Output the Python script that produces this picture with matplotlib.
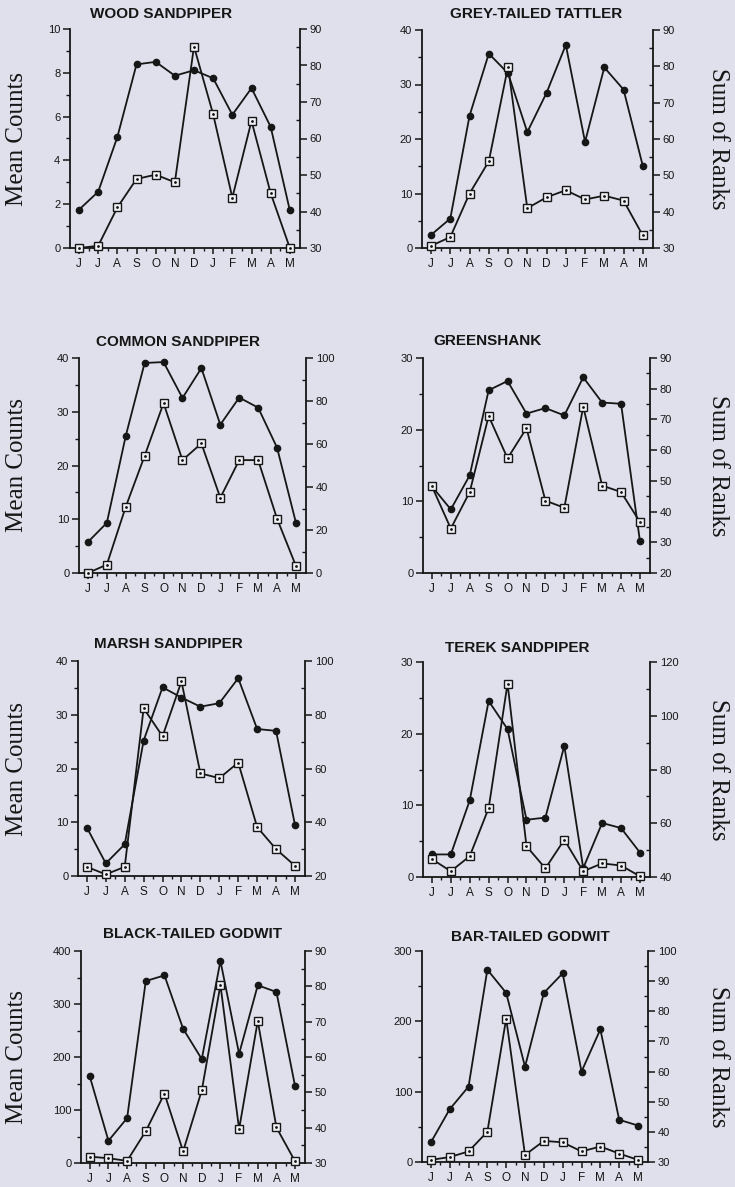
import matplotlib
matplotlib.use("Agg")
import matplotlib.pyplot as plt
from matplotlib.ticker import MultipleLocator, FixedLocator

months = ["J", "J", "A", "S", "O", "N", "D", "J", "F", "M", "A", "M"]

species = ["WOOD SANDPIPER", "GREY-TAILED TATTLER", "COMMON SANDPIPER", "GREENSHANK",
           "MARSH SANDPIPER", "TEREK SANDPIPER", "BLACK-TAILED GODWIT", "BAR-TAILED GODWIT"]

# Mean counts (open squares, left axis)
wood_counts = [0, 0.1, 1.85, 3.15, 3.35, 3.0, 9.2, 6.1, 2.3, 5.8, 2.5, 0]
tattler_counts = [0.4, 2.0, 10.0, 15.9, 33.3, 7.3, 9.3, 10.6, 8.9, 9.6, 8.7, 2.3]
common_counts = [0, 1.55, 12.3, 21.8, 31.6, 21.0, 24.1, 14.0, 21.0, 21.0, 10.1, 1.3]
greenshank_counts = [12.1, 6.2, 11.3, 21.9, 16.0, 20.2, 10.1, 9.1, 23.2, 12.2, 11.3, 7.1]
marsh_counts = [1.7, 0.3, 1.7, 31.2, 26.0, 36.2, 19.1, 18.2, 21.1, 9.1, 5.0, 1.9]
terek_counts = [2.5, 0.8, 2.9, 9.6, 27.0, 4.3, 1.2, 5.2, 0.8, 1.9, 1.6, 0.1]
btgodwit_counts = [12, 9, 4, 60, 131, 22, 137, 336, 64, 268, 67, 3]
bargodwit_counts = [3, 7, 15, 43, 204, 10, 30, 28, 15, 22, 12, 3]

# Sum of ranks (filled markers, right axis)
wood_ranks = [40.5, 45.4, 60.4, 80.3, 81.0, 77.2, 78.7, 76.5, 66.5, 73.8, 63.2, 40.3]
tattler_ranks = [33.6, 38.1, 66.4, 83.5, 78.1, 61.9, 72.7, 85.9, 59.2, 79.7, 73.6, 52.6]
common_ranks = [14.4, 23.3, 63.7, 97.7, 98.1, 81.4, 95.3, 69.0, 81.6, 76.9, 58.3, 23.3]
greenshank_ranks = [48.2, 40.7, 51.8, 79.5, 82.5, 71.9, 73.7, 71.3, 83.7, 75.5, 75.1, 30.3]
marsh_ranks = [38.0, 24.7, 31.8, 70.4, 90.2, 86.4, 83.0, 84.3, 93.6, 74.7, 74.0, 39.0]
terek_ranks = [48.4, 48.4, 68.5, 105.5, 95.0, 61.3, 62.1, 88.8, 43.3, 60.1, 58.2, 49.1]
btgodwit_ranks = [54.5, 36.3, 42.7, 81.5, 83.1, 68.0, 59.4, 87.2, 60.9, 80.3, 78.4, 51.7]
bargodwit_ranks = [36.5, 47.5, 55.0, 93.8, 86.1, 61.6, 86.1, 92.6, 60.0, 74.0, 44.0, 42.1]

counts = [wood_counts, tattler_counts, common_counts, greenshank_counts,
          marsh_counts, terek_counts, btgodwit_counts, bargodwit_counts]
ranks = [wood_ranks, tattler_ranks, common_ranks, greenshank_ranks,
         marsh_ranks, terek_ranks, btgodwit_ranks, bargodwit_ranks]

# axis ranges and tick steps: (min, max, major, minor)
left_axes = [(0, 10, 2, 1), (0, 40, 10, 5), (0, 40, 10, 5), (0, 30, 10, 5),
             (0, 40, 10, 5), (0, 30, 10, 5), (0, 400, 100, 50), (0, 300, 100, 50)]
right_axes = [(30, 90, 10, 5), (30, 90, 10, 5), (0, 100, 20, 10), (20, 90, 10, 5),
              (20, 100, 20, 10), (40, 120, 20, 10), (30, 90, 10, 5), (30, 100, 10, 5)]

# layout in pixels: left, right, top, bottom of the plotting box; title centre x, title y
W, H = 735, 1187
boxes = [(70, 300, 29, 248), (422, 653, 30, 248),
         (79, 306, 358, 573), (423, 650, 358, 573),
         (78, 305, 661, 876), (423, 650, 662, 877),
         (81, 305, 951, 1163), (422, 648, 951, 1162)]
titles_pos = [(161, 14), (536, 14), (178, 342), (487, 341),
              (168, 644), (517, 648), (192, 934), (530, 937)]

BG = "#dfe0eb"
INK = "#161616"
SANS = ["Liberation Sans", "DejaVu Sans"]
SERIF = ["Liberation Serif", "DejaVu Serif"]

fig = plt.figure(figsize=(W / 100, H / 100), dpi=100, facecolor=BG)

x = list(range(len(months)))

for i in range(8):
    l, r, t, b = boxes[i]
    ax = fig.add_axes([l / W, 1 - b / H, (r - l) / W, (b - t) / H])
    ax.set_facecolor("none")
    ax2 = ax.twinx()
    ax2.set_facecolor("none")

    lmin, lmax, lmaj, lmin_step = left_axes[i]
    rmin, rmax, rmaj, rmin_step = right_axes[i]
    ax.set_ylim(lmin, lmax)
    ax2.set_ylim(rmin, rmax)
    ax.set_xlim(-0.47, 11.53)

    ax2.plot(x, ranks[i], color=INK, lw=1.3, marker="o", ms=4.5, mfc=INK, mec=INK,
             clip_on=False, zorder=3)
    ax.plot(x, counts[i], color=INK, lw=1.3, marker="s", ms=5.2, mfc="#f2f2f6", mec=INK,
            mew=1.0, clip_on=False, zorder=4)
    ax.plot(x, counts[i], ls="none", marker=".", ms=2.0, color=INK, clip_on=False, zorder=5)
    ax.set_zorder(ax2.get_zorder() + 1)

    for a in (ax, ax2):
        a.spines["top"].set_visible(False)
        for s in ("left", "right", "bottom"):
            a.spines[s].set_color(INK)
            a.spines[s].set_linewidth(1.3)
    ax.spines["right"].set_visible(False)
    ax2.spines["left"].set_visible(False)
    ax2.spines["bottom"].set_visible(False)

    ax.yaxis.set_major_locator(MultipleLocator(lmaj))
    ax.yaxis.set_minor_locator(MultipleLocator(lmin_step))
    ax2.yaxis.set_major_locator(MultipleLocator(rmaj))
    ax2.yaxis.set_minor_locator(MultipleLocator(rmin_step))
    ax.xaxis.set_major_locator(FixedLocator(x))
    ax.xaxis.set_minor_locator(FixedLocator([v + 0.5 for v in x[:-1]]))
    ax.set_xticklabels(months)

    ax.tick_params(axis="y", which="major", direction="out", length=5, width=1.1,
                   color=INK, labelsize=8, pad=2, labelcolor=INK)
    ax.tick_params(axis="y", which="minor", direction="out", length=3, width=1.0, color=INK)
    ax2.tick_params(axis="y", which="major", direction="out", length=5, width=1.1,
                    color=INK, labelsize=8, pad=2, labelcolor=INK)
    ax2.tick_params(axis="y", which="minor", direction="in", length=3, width=1.0, color=INK)
    ax.tick_params(axis="x", which="major", direction="out", length=4, width=1.1,
                   color=INK, labelsize=8.5, pad=3, labelcolor=INK)
    ax.tick_params(axis="x", which="minor", direction="out", length=2.5, width=1.0, color=INK)
    for lab in ax.get_xticklabels() + ax.get_yticklabels() + ax2.get_yticklabels():
        lab.set_family(SANS)

    tx, ty = titles_pos[i]
    fig.text(tx / W, 1 - ty / H, species[i], ha="center", va="center", fontsize=11,
             fontweight="bold", family=SANS, color=INK)

    yc = 1 - ((t + b) / 2) / H
    if i % 2 == 0:
        fig.text(17 / W, yc, "Mean Counts", rotation=90, ha="center", va="center",
                 fontsize=18, family=SERIF, color=INK)
    else:
        fig.text(718 / W, yc, "Sum of Ranks", rotation=270, ha="center", va="center",
                 fontsize=18, family=SERIF, color=INK)

fig.savefig("out.png", dpi=100, facecolor=BG)
